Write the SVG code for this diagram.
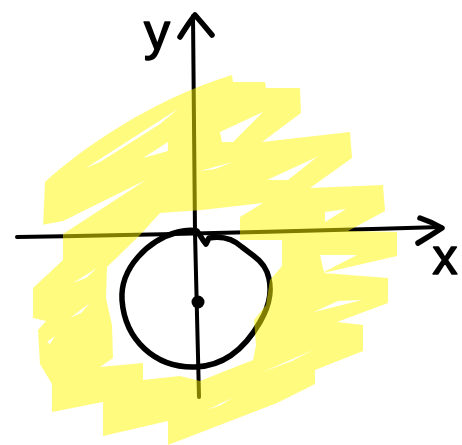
<svg xmlns="http://www.w3.org/2000/svg" width="462" height="445" viewBox="0 0 462 445">
  <style>
    .ink { fill: none; stroke: #000; stroke-linecap: round; stroke-linejoin: round; }
    .axis { stroke-width: 4; }
    .head { stroke-width: 5.5; }
    .ring { stroke-width: 5.5; }
    .lbl { font-family: "Liberation Sans", Arial, sans-serif; fill: #000; stroke: #000; stroke-width: 1.5; stroke-linejoin: round; text-anchor: middle; }
    .hl { fill: #fff700; fill-rule: evenodd; opacity: 0.5; }
  </style>
  <defs>
    <mask id="gaps" maskUnits="userSpaceOnUse" x="0" y="0" width="462" height="445">
      <rect x="0" y="0" width="462" height="445" fill="#fff"/>
      <g fill="#000">
        <polygon points="36,226 63,221 146,180 63,234 36,236"/>
        <polygon points="86,168 178,109 160,124 100,162"/>
        <polygon points="143,158 168,142 168,151 150,156"/>
        <polygon points="220,132 263,112 233,142 222,142"/>
        <polygon points="200,171 233,162 215,169"/>
        <polygon points="267,180 317,157 288,180"/>
        <polygon points="325,212 346,209 325,222"/>
        <polygon points="320,255 357,255 324,272"/>
        <polygon points="314,312 362,300 338,301"/>
        <polygon points="263,372 313,350 292,361"/>
        <polygon points="207,410 232,398 221,405"/>
        <polygon points="73,283 97,268 86,278"/>
        <polygon points="70,318 90,303 81,313"/>
        <polygon points="47,342 55,336 50,344"/>
      </g>
    </mask>
  </defs>

  <g id="axes">
    <path class="ink axis" d="M17,237 Q200,234 441,227"/>
    <path class="ink head" d="M420,218 Q432,222 442,228 Q430,236 418,243"/>
    <path class="ink axis" d="M193,16 L195,233 L199,397"/>
    <path class="ink head" d="M180,37 Q188,24 195,15 Q203,24 212,35"/>
  </g>

  <g id="circle">
    <path class="ink ring" d="M197,231 L203,240 L206,244 L209,238 C220,236 232,238 242,247 C252,255 262,260 267,272 C273,288 270,305 260,322 C248,343 228,366 195,367 C155,368 125,340 122,300 C120,268 148,240 178,232 C186,230 192,230 197,231 Z"/>
    <circle cx="198" cy="302" r="6.5" fill="#000"/>
  </g>

  <g id="scribble" mask="url(#gaps)">
    <path class="hl" d="M45,182 C80,150 150,100 232,75 L233,82 L265,82 L266,88 L300,88 L301,113 L262,142 L350,132 L352,158 L310,188 L383,185 L385,211 L348,231 L397,232 L397,256 L323,273 L388,278 L388,303 L337,322 L363,325 L363,351 L315,370 L315,384 L277,403 L168,445 L168,421 L103,436 L103,402 L52,412 L52,384 L40,364 L38,330 L46,321 L33,318 L33,288 L63,260 L63,234 L43,228 Z M140,235 L160,213 L202,210 L263,203 L240,217 L240,240 L282,240 L282,266 L270,280 L266,305 L254,320 L256,345 L253,360 L200,381 L180,376 L143,380 L143,363 L100,367 L113,358 L112,325 L106,298 L107,267 Z"/>
  </g>

  <g id="labels">
    <text class="lbl" x="157" y="49" font-size="52">y</text>
    <text class="lbl" x="445" y="274" font-size="50">x</text>
  </g>
</svg>
